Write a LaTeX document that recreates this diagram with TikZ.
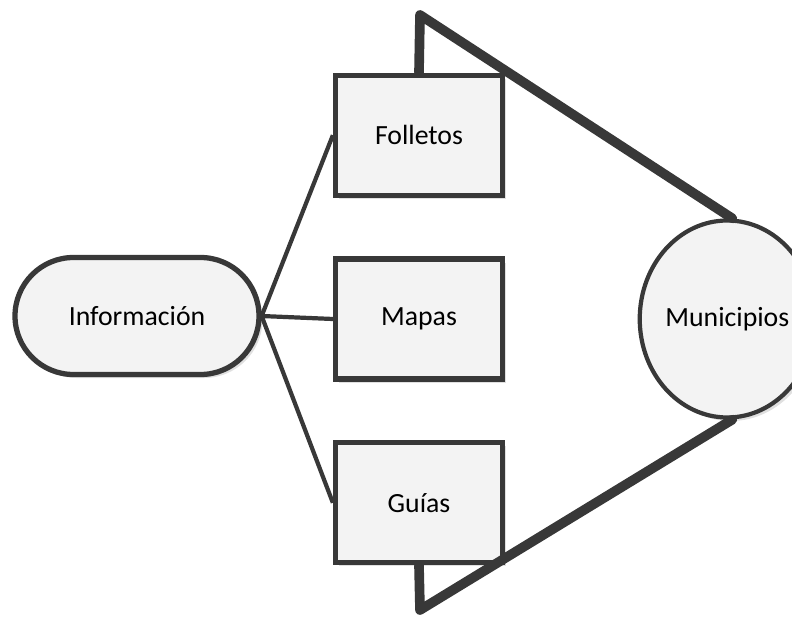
\documentclass[tikz,border=0pt]{standalone}
\usepackage{fontspec}
\setmainfont{Carlito}
\usetikzlibrary{positioning}
\usetikzlibrary{shapes.geometric}
\usetikzlibrary{shadows}
\definecolor{linegray}{HTML}{383838}
\definecolor{boxfill}{HTML}{F3F3F3}
\tikzset{
  box/.style={draw=linegray, line width=3pt, fill=boxfill, minimum width=3.34cm,
    minimum height=2.4cm, font=\fontsize{15.8}{18}\selectfont,
    drop shadow={shadow xshift=2pt, shadow yshift=-2pt, fill=black, opacity=0.12}},
  link/.style={draw=linegray, line width=2.4pt},
  funnel/.style={draw=linegray, line width=5.5pt, line cap=round, line join=round}
}

\begin{document}
\begin{tikzpicture}
    \useasboundingbox (0,0) rectangle (15.84,-12.36);
    \node[box, rounded corners=1.17cm, minimum width=4.88cm, minimum height=2.34cm] (info) at (2.74,-6.32) {Información};
    \node[box] (mapas) at (8.38,-6.38) {Mapas};
    \node[box, above=1.17cm of mapas] (folletos) {Folletos};
    \node[box, below=1.17cm of mapas] (guias) {Guías};
    \node[box, ellipse, line width=2.4pt, minimum width=3.08cm, minimum height=3.94cm, inner sep=0pt, right=2.65cm of mapas] (muni) {Municipios};
    \coordinate (top) at (8.4,-0.3);
    \coordinate (bot) at (8.4,-12.2);
    \draw[link] (info.east) -- (folletos.west);
    \draw[link] (info.east) -- (mapas.west);
    \draw[link] (info.east) -- (guias.west);
    \draw[funnel] (folletos.north) -- (top) -- ([xshift=0.1cm]muni.north);
    \draw[funnel] (guias.south) -- (bot) -- ([xshift=0.1cm]muni.south);
\end{tikzpicture}
\end{document}
